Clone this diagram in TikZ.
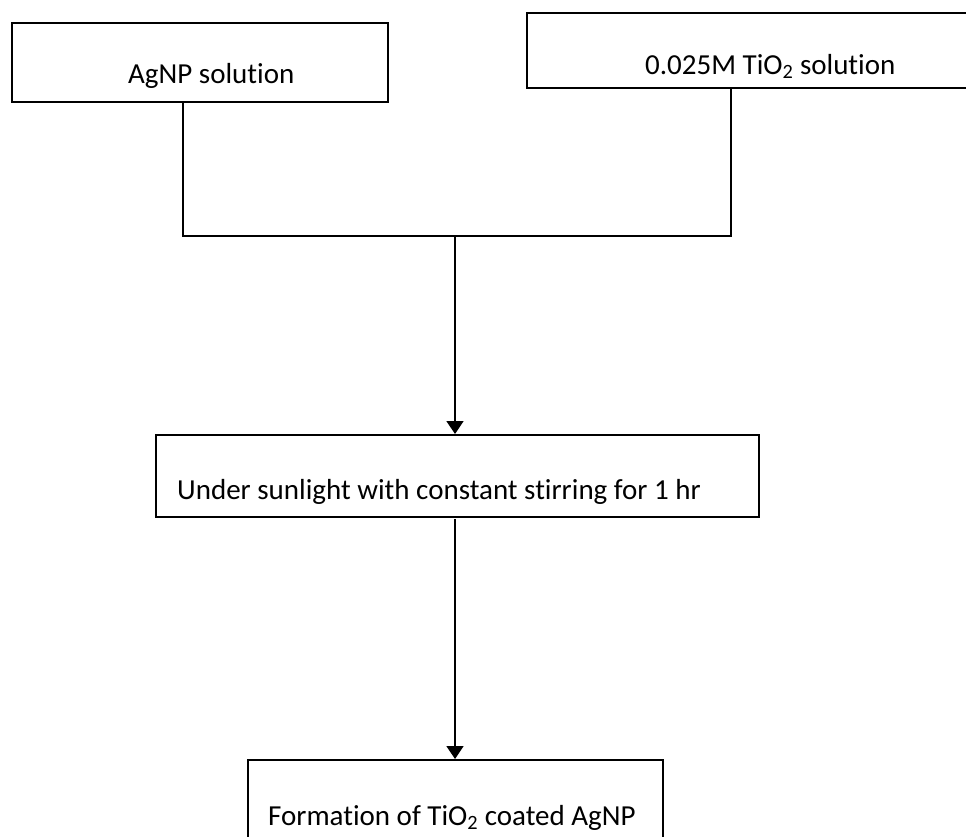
\documentclass[tikz,border=0pt]{standalone}
\usepackage{fontspec}
\setmainfont{Carlito}[Ligatures=NoCommon]
\usetikzlibrary{arrows.meta}
\begin{document}
\begin{tikzpicture}[x=1pt,y=-1pt,
  boxshape/.style={draw=black, line width=1.5pt, rectangle, inner sep=0pt, anchor=north west},
  lbl/.style={inner sep=0pt, anchor=base west, font=\fontsize{29}{34}\selectfont},
  conn/.style={line width=1.5pt, draw=black},
  arr/.style={conn, -{Triangle[width=17pt,length=13pt]}}]
\useasboundingbox (0,0) rectangle (966,836);
% boxes
\node[boxshape, minimum width=376pt, minimum height=79pt] (b1) at (11,22) {};
\node[boxshape, minimum width=445pt, minimum height=75pt] (b2) at (526,12) {};
\node[boxshape, minimum width=603pt, minimum height=82pt] (b3) at (155,434) {};
\node[boxshape, minimum width=415pt, minimum height=100pt] (b4) at (247,759) {};
% texts
\node[lbl] (t1) at (128,83) {AgNP solution};
\node[lbl] (t2) at (645,74) {0.025M TiO\textsubscript{2} solution};
\node[lbl] (t3) at (177,499) {Under sunlight with constant stirring for 1 hr};
\node[lbl] (t4) at (268,825) {Formation of TiO\textsubscript{2} coated AgNP};
% connectors
\coordinate (j1) at (183,236);
\coordinate (j2) at (731,236);
\coordinate (jm) at (455,236);
\draw[conn] (b1.south -| j1) -- (j1) -- (j2) -- (b2.south -| j2);
\draw[arr] (jm) -- (b3.north -| jm);
\coordinate (s2) at (455,519);
\draw[arr] (s2) -- (b4.north -| s2);
\end{tikzpicture}
\end{document}
